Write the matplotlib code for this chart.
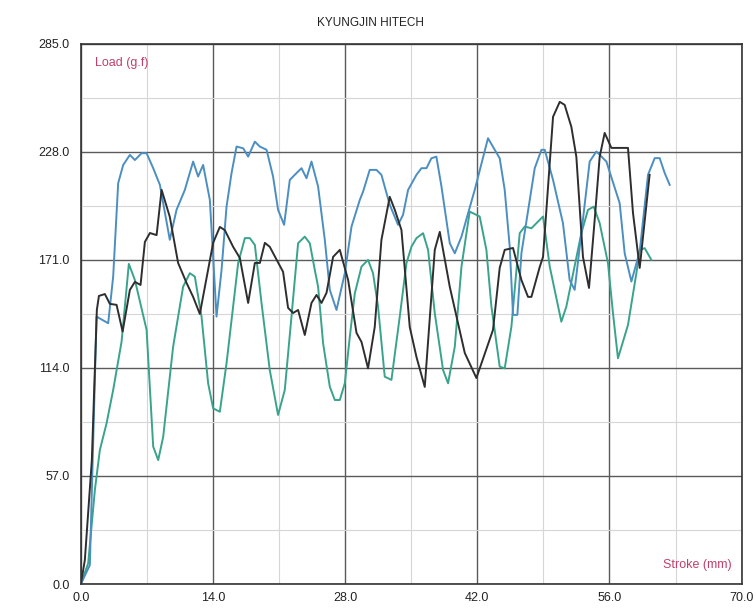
import matplotlib
matplotlib.use("Agg")
import matplotlib.pyplot as plt
from matplotlib.ticker import MultipleLocator, FormatStrFormatter

plt.rcParams['font.family'] = ['Liberation Sans', 'DejaVu Sans']

# ---------------------------------------------------------#
#                 Load / stroke test data                  #
# ---------------------------------------------------------#

black_x = [0, 0.42, 1.16, 1.69, 1.91, 2.54, 3.07, 3.78, 4.42, 5.19, 5.72, 6.32, 6.78, 7.31, 8.02,
           8.55, 9.42, 10.3, 11.19, 11.89, 12.6, 14.01, 14.72, 15.25, 16.13, 16.84, 17.72, 18.43,
           18.96, 19.49, 20.01, 21.42, 21.95, 22.48, 23.01, 23.72, 24.43, 24.96, 25.49, 26.02,
           26.72, 27.43, 28.31, 29.2, 29.73, 30.42, 31.13, 31.84, 32.72, 33.25, 33.96, 34.84,
           35.55, 36.43, 37.49, 38.02, 39.08, 40.67, 41.9, 43.66, 44.37, 44.9, 45.78, 46.67,
           47.37, 47.73, 48.61, 48.96, 50.02, 50.73, 51.25, 51.96, 52.49, 53.19, 53.83, 54.43,
           54.96, 55.49, 56.2, 57.96, 58.49, 59.2, 60.25]
black_y = [0, 12.7, 65.4, 144.6, 152, 153, 147.8, 147.3, 133.2, 155.2, 159.4, 157.8, 180.5, 185.2,
           184.1, 208, 193.7, 169.4, 158.9, 151.5, 142.5, 180, 188.4, 186.7, 177.9, 172, 148.3,
           169.4, 169.4, 180, 177.9, 164.7, 145.7, 143, 144.6, 131.4, 148.3, 152.5, 148.3, 153.6,
           172.6, 176.3, 160.4, 132.5, 127.7, 113.8, 135.6, 181.6, 204.3, 197.5, 186.8, 135.6,
           119.8, 104, 176.3, 185.8, 156.8, 121.9, 108.7, 134.1, 166.8, 176.3, 177.3, 160.4,
           151.5, 151.5, 167.3, 172.6, 246.5, 254.4, 252.8, 241.2, 225.4, 172.6, 156.2, 192.1,
           225.4, 238, 230.1, 230.1, 195.8, 166.8, 215.9]

blue_x = [0, 0.95, 1.66, 2.89, 3.42, 3.95, 4.48, 5.19, 5.72, 6.43, 6.96, 7.66, 8.37, 9.42, 10.13,
          11.01, 11.89, 12.42, 12.95, 13.66, 14.01, 14.37, 14.9, 15.43, 15.96, 16.49, 17.19,
          17.72, 18.43, 18.96, 19.67, 20.36, 20.89, 21.53, 22.13, 22.66, 23.37, 23.9, 24.43,
          25.13, 25.84, 26.37, 27.08, 27.96, 28.67, 29.55, 29.9, 30.6, 31.31, 31.84, 32.72,
          33.6, 34.13, 34.66, 35.55, 36.08, 36.61, 37.13, 37.66, 38.2, 39.08, 39.61, 40.32,
          41.72, 43.13, 44.37, 44.9, 45.43, 45.78, 46.24, 46.67, 48.08, 48.79, 49.14, 50.02,
          51.07, 51.78, 52.31, 53.02, 53.9, 54.61, 55.67, 57.08, 57.61, 58.32, 59.2, 60.08,
          60.79, 61.32, 61.85, 62.38]
blue_y = [0, 10, 141.1, 137.6, 162.2, 211.5, 221.1, 226.4, 223.7, 227.3, 227.3, 219.4, 210.6,
          181.6, 197.4, 207.9, 222.9, 215, 221.1, 202.7, 172.7, 141.1, 165.7, 199.1, 216.8, 230.8,
          229.9, 225.5, 233.4, 230.8, 229.1, 215, 197.4, 189.5, 213.2, 215.9, 219.4, 214.1,
          222.9, 209.7, 181.6, 155.2, 144.6, 164, 188.6, 202.7, 207.1, 218.5, 218.5, 215.9,
          200.1, 189.5, 194.8, 207.9, 215.9, 219.4, 219.4, 224.6, 225.5, 209.7, 179.8, 174.5,
          183.3, 207.9, 235.2, 224.6, 207.9, 178, 142, 142, 174.5, 219.4, 229.1, 229.1, 213.2,
          190.4, 160.4, 155.2, 185.1, 222.9, 228.2, 222.9, 200.9, 174.5, 159.6, 175.4, 215.9,
          224.7, 224.7, 216.8, 210.6]

teal_x = [0, 0.77, 1.48, 2.01, 2.72, 3.42, 4.31, 5.08, 5.72, 6.96, 7.66, 8.19, 8.72, 9.77, 10.83,
          11.54, 12.07, 12.78, 13.48, 14.01, 14.72, 15.43, 16.66, 17.37, 17.9, 18.43, 19.14,
          20.01, 20.89, 21.6, 22.31, 23.01, 23.72, 24.25, 24.78, 25.13, 25.66, 26.37, 26.9,
          27.43, 27.96, 28.49, 29.02, 29.73, 30.42, 30.95, 31.48, 32.19, 32.9, 33.78, 34.49,
          35.02, 35.55, 36.25, 36.78, 37.49, 38.37, 38.9, 39.61, 40.32, 41.19, 42.25, 42.96,
          43.49, 44.37, 44.9, 45.61, 46.49, 47.02, 47.73, 48.96, 49.67, 50.9, 51.43, 53.02,
          53.72, 54.33, 54.96, 55.84, 56.37, 56.9, 57.96, 58.85, 59.2, 59.73, 60.44]
teal_y = [0, 10.9, 49.6, 70.7, 84.8, 102.4, 127.9, 168.9, 160.4, 134.1, 72.5, 65.4, 77.7, 125.2,
          156.9, 164, 162.2, 141.1, 105.9, 92.7, 90.9, 116.5, 169.3, 182.5, 182.5, 178.9, 148.1,
          112.9, 89.2, 102.4, 141.1, 179.8, 183.3, 179.8, 165.7, 156.9, 127, 104.1, 97.1, 97.1,
          105.9, 130.5, 153.4, 167.5, 171, 164, 146.4, 109.4, 107.7, 141.1, 169.3, 178, 182.5,
          185.1, 176.3, 142.9, 112.9, 105.9, 125.2, 167.5, 196.5, 193.9, 176.3, 146.4, 114.7,
          113.8, 135.8, 185.1, 188.6, 187.7, 193.9, 167.5, 138.4, 146.4, 185.1, 197.4, 199.1,
          190.4, 169.3, 142.9, 119.1, 136.7, 164, 176.3, 177.2, 171]


def plot_graph():
    fig = plt.figure(figsize=(7.56, 6.09), dpi=100)
    ax = fig.add_axes([0.107, 0.041, 0.874, 0.887])

    # grid: dark major every 14 / 57, light minor in between
    ax.xaxis.set_major_locator(MultipleLocator(14))
    ax.xaxis.set_minor_locator(MultipleLocator(7))
    ax.yaxis.set_major_locator(MultipleLocator(57))
    ax.yaxis.set_minor_locator(MultipleLocator(28.5))
    ax.grid(which='major', color='#5a5a5a', linewidth=1.0)
    ax.grid(which='minor', color='#d6d6d6', linewidth=0.8)
    ax.set_axisbelow(True)

    ax.plot(teal_x, teal_y, color='#3aa38c', linewidth=1.4)
    ax.plot(blue_x, blue_y, color='#4b8fc2', linewidth=1.4)
    ax.plot(black_x, black_y, color='#2e2e2e', linewidth=1.4)

    ax.set_xlim(0, 70)
    ax.set_ylim(0, 285)
    ax.xaxis.set_major_formatter(FormatStrFormatter('%.1f'))
    ax.yaxis.set_major_formatter(FormatStrFormatter('%.1f'))
    ax.tick_params(which='both', length=0, labelsize=9, colors='#222222')
    ax.tick_params(axis='x', pad=6)
    ax.tick_params(axis='y', pad=8)
    for s in ax.spines.values():
        s.set_color('#333333')
        s.set_linewidth(1.2)

    ax.text(0.022, 0.975, 'Load (g.f)', transform=ax.transAxes, color='#c0406a',
            fontsize=9, va='top', ha='left')
    ax.text(0.985, 0.025, 'Stroke (mm)', transform=ax.transAxes, color='#c0406a',
            fontsize=9, va='bottom', ha='right')
    fig.text(0.49, 0.963, 'KYUNGJIN HITECH', fontsize=8.5, ha='center', va='center',
             color='#222222')

    fig.savefig('out.png', dpi=100)


plot_graph()
